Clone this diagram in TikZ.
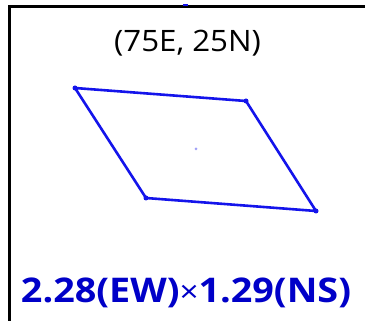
\documentclass[tikz,border=0pt]{standalone}
\usepackage{fontspec}
\setmainfont{Open Sans}
\newfontfamily\widefont[FakeStretch=1.06]{Open Sans}
\newfontfamily\widerfont[FakeStretch=1.11]{Open Sans}
\definecolor{pblue}{RGB}{20,20,235}
\definecolor{tblue}{RGB}{0,0,200}
\begin{document}
\begin{tikzpicture}[x=1pt,y=-1pt,
  edge/.style={draw=pblue,line width=2.6pt,line join=round},
  vdot/.style={circle,fill=pblue,inner sep=0pt,minimum size=5pt},
  frame/.style={draw=black,line width=3pt}]
\useasboundingbox (0,0) rectangle (365,321);
\fill[white] (0,0) rectangle (365,321);
\draw[frame] (9,321) -- (9,7) -- (365,7);
\fill[pblue] (183,4) rectangle (188,6);
\node[anchor=base,inner sep=0pt] (t) at (187.5,52) {\widefont\fontsize{29.5}{32}\selectfont (75E, 25N)};
\node[vdot] (a) at (75,88) {};
\node[vdot] (b) at (246,101) {};
\node[vdot] (c) at (316,211) {};
\node[vdot] (d) at (146,198) {};
\node[circle,fill=pblue!40,inner sep=0pt,minimum size=3pt] (m) at (196,149) {};
\draw[edge] (a.center) -- (b.center) -- (c.center) -- (d.center) -- cycle;
\node[anchor=base,inner sep=0pt,text=tblue] (s) at (186,302) {\widerfont\fontsize{34}{40}\selectfont\bfseries 2.28(EW)\mdseries\fontsize{30}{40}\selectfont×\fontsize{34}{40}\selectfont\bfseries 1.29(NS)};
\end{tikzpicture}
\end{document}
